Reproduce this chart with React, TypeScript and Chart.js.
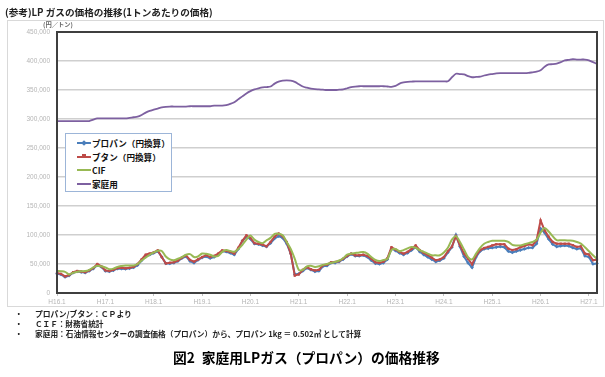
import { useEffect, useLayoutEffect, useRef, useState } from 'react';
import { Chart, registerables } from 'chart.js';

Chart.register(...registerables);

const eras = ['H16', 'H17', 'H18', 'H19', 'H20', 'H21', 'H22', 'H23', 'H24', 'H25', 'H26', 'H27'];
const monthsPerEra = [12, 12, 12, 12, 12, 12, 12, 12, 12, 12, 12, 3];
const categories: string[] = [];
eras.forEach((e, i) => {
  for (let m = 1; m <= monthsPerEra[i]; m++) categories.push(`${e}.${m}`);
});
const tickLabels = ['H16.1', 'H17.1', 'H18.1', 'H19.1', 'H20.1', 'H21.1', 'H22.1', 'H23.1', 'H24.1', 'H25.1', 'H26.1', 'H27.1'];

// プロパン（円換算） 円/トン
const propane = [
  33000, 32000, 27500, 30000, 35000, 37000, 36000, 35000, 38000, 42000, 48000, 45000,
  38000, 37000, 39000, 42000, 42000, 41500, 42500, 44000, 48000, 56000, 63000, 66000,
  69000, 72000, 62000, 51000, 51000, 52000, 55000, 60000, 63000, 55000, 52000, 57000,
  61000, 63000, 60000, 62000, 66000, 72000, 71000, 69000, 66000, 76000, 90000, 97000,
  93000, 85000, 84000, 82000, 80000, 86000, 94000, 98000, 95000, 85000, 68000, 32000,
  33000, 38000, 43000, 40000, 37000, 38000, 46000, 47000, 52000, 52000, 54000, 58000,
  63000, 67000, 64000, 64000, 65000, 62000, 56000, 51000, 50000, 52000, 58000, 77000,
  73000, 69000, 66000, 69000, 74000, 79000, 71000, 66000, 62000, 58000, 54000, 56000,
  60000, 70000, 79000, 100000, 80000, 63000, 52000, 44000, 62000, 72000, 76000, 77000,
  78000, 79000, 80000, 79000, 72000, 70000, 72000, 74000, 76000, 78000, 78000, 85000,
  111000, 104000, 93000, 84000, 80000, 81000, 82000, 81000, 78000, 76000, 77000, 64000,
  62000, 50000, 51000,
];

// ブタン（円換算）
const butane = [
  34400, 33000, 28600, 31000, 36000, 38000, 37000, 36000, 39000, 43000, 50000, 46000,
  39000, 38000, 40000, 43000, 43500, 42500, 43500, 45000, 50000, 58000, 66000, 68000,
  70000, 73500, 62000, 51000, 52000, 53000, 56000, 61000, 65000, 57000, 54000, 58000,
  62000, 65500, 62000, 64000, 68000, 73500, 72500, 71000, 68000, 78000, 90000, 99500,
  95000, 86000, 85000, 83500, 80500, 88000, 97000, 102500, 98000, 88000, 68000, 30000,
  32000, 40000, 44500, 41000, 39000, 40000, 48000, 49000, 53000, 53500, 55000, 59000,
  64000, 68000, 65000, 65000, 66000, 64000, 59000, 53000, 52000, 54000, 60000, 79000,
  75000, 71000, 68000, 71000, 76000, 82000, 74000, 69000, 65500, 61000, 56500, 58000,
  62000, 72000, 80000, 98000, 82000, 68000, 59000, 49500, 65000, 74000, 77500, 79500,
  82000, 84000, 84000, 84000, 76500, 74000, 75500, 79000, 81000, 84000, 82500, 91000,
  125000, 108000, 97000, 88000, 85000, 85000, 85000, 85000, 82500, 79500, 80500, 68000,
  66500, 56500, 57500,
];

// CIF
const cif = [
  38000, 37500, 36500, 32000, 35000, 36500, 37500, 38000, 40000, 44000, 47000, 46000,
  44000, 41000, 42000, 45000, 46500, 47500, 47500, 47500, 50000, 56000, 61000, 66000,
  70000, 73000, 72500, 63000, 58000, 56500, 59000, 62000, 66000, 67000, 62000, 63000,
  68000, 67500, 66000, 63000, 64000, 71000, 74000, 72500, 71000, 76000, 83000, 92000,
  99000, 92000, 88000, 86000, 91000, 95000, 102000, 102000, 99500, 88000, 76000, 59000,
  40000, 40000, 46000, 47000, 45000, 46000, 48500, 50000, 52000, 53500, 56000, 60000,
  66000, 68000, 69000, 70000, 70500, 68000, 62000, 57000, 55000, 57000, 59000, 74000,
  76000, 72000, 74000, 77000, 79500, 78000, 74000, 71000, 68000, 65000, 65000, 65000,
  70000, 78000, 92000, 98000, 88000, 75000, 62000, 58000, 68000, 78000, 85000, 88000,
  90000, 90000, 90000, 90000, 88000, 83000, 82000, 82000, 84000, 86000, 88000, 92000,
  104000, 112000, 106000, 98000, 91000, 91000, 91000, 90500, 90000, 88000, 85000, 79000,
  72000, 65000, 59000,
];

// 家庭用
const household = [
  296500, 296500, 296500, 296500, 296500, 296500, 296500, 296500, 296500, 299000, 301000, 301000,
  301000, 301000, 301000, 301000, 301000, 301000, 302000, 303000, 304000, 307000, 311000, 314000,
  316000, 318000, 320000, 321000, 321500, 321500, 321500, 321500, 321500, 322000, 322000, 322000,
  322000, 322000, 322000, 323000, 323000, 323000, 324000, 326000, 329000, 334000, 339000, 344000,
  348000, 351000, 353000, 354500, 355000, 356000, 361000, 364500, 366000, 366500, 366000, 364000,
  360000, 356000, 354000, 352500, 351500, 351000, 350500, 350000, 350000, 350000, 350500, 351000,
  353000, 355000, 356000, 356500, 356500, 356500, 356500, 356500, 356500, 356500, 356000, 355500,
  357000, 361000, 363000, 364000, 364500, 365000, 365000, 365000, 365000, 365000, 365000, 365000,
  365000, 365000, 372000, 378000, 377500, 377000, 374000, 372000, 372500, 373000, 375000, 376500,
  377500, 378500, 379000, 379000, 379000, 379000, 379000, 379000, 379000, 379500, 380500, 381500,
  384000, 390000, 394000, 394500, 395500, 398000, 401000, 402000, 403000, 402500, 402500, 402500,
  401000, 398000, 395000,
];

const seriesNames = ['プロパン（円換算）', 'ブタン（円換算）', 'CIF', '家庭用'];
const seriesColors = ['#4A7EBB', '#BE4B48', '#98B954', '#7D60A0'];

const titleText = '(参考)LP ガスの価格の推移(1トンあたりの価格)';
const unitText = '(円／トン)';
const noteTexts = [
  'プロパン/ブタン：ＣＰより',
  'ＣＩＦ：財務省統計',
  '家庭用：石油情報センターの調査価格（プロパン）から、プロパン 1kg ＝ 0.502㎥ として計算',
];
const captionText = '図2\u2002家庭用LPガス（プロパン）の価格推移';

const JP = '"Noto Sans CJK JP", "Noto Sans", sans-serif';

const framePlugin = {
  id: 'frame',
  afterDatasetsDraw(chart: any) {
    const { ctx, chartArea } = chart;
    ctx.save();
    ctx.strokeStyle = '#3f3f3f';
    ctx.lineWidth = 2;
    ctx.strokeRect(chartArea.left, chartArea.top, chartArea.right - chartArea.left, chartArea.bottom - chartArea.top);
    ctx.restore();
  },
};

// Text fitted to a measured width, vertically centred on cy
function FitText(props: { text: string; left: number; cy: number; width?: number; base: number; weight?: number; color?: string }) {
  const ref = useRef<HTMLSpanElement>(null);
  const [size, setSize] = useState(props.base);
  useLayoutEffect(() => {
    if (!ref.current || !props.width) return;
    const w = ref.current.getBoundingClientRect().width;
    if (w > 0) setSize(props.base * props.width / w);
  }, []);
  return (
    <span
      ref={ref}
      style={{
        position: 'absolute', left: props.left, top: props.cy, transform: 'translateY(-50%)',
        fontFamily: JP, fontWeight: props.weight ?? 700, fontSize: size, lineHeight: 1,
        color: props.color ?? '#222', whiteSpace: 'nowrap',
      }}
    >
      {props.text}
    </span>
  );
}

export default function App() {
  const ref = useRef<HTMLCanvasElement>(null);

  useEffect(() => {
    if (!ref.current) return;
    const isTick = (i: number) => tickLabels.includes(categories[i]);
    const chart = new Chart(ref.current, {
      type: 'line',
      data: {
        labels: categories,
        datasets: [
          {
            label: seriesNames[0], data: propane, borderColor: seriesColors[0], backgroundColor: seriesColors[0],
            borderWidth: 2, pointStyle: 'rectRot', pointRadius: 1.8, pointBorderWidth: 0, tension: 0, order: 4,
          },
          {
            label: seriesNames[1], data: butane, borderColor: seriesColors[1], backgroundColor: seriesColors[1],
            borderWidth: 2, pointStyle: 'rect', pointRadius: 1.6, pointBorderWidth: 0, tension: 0, order: 3,
          },
          {
            label: seriesNames[2], data: cif, borderColor: seriesColors[2], backgroundColor: seriesColors[2],
            borderWidth: 2, pointRadius: 0, tension: 0.3, order: 2,
          },
          {
            label: seriesNames[3], data: household, borderColor: seriesColors[3], backgroundColor: seriesColors[3],
            borderWidth: 1.8, pointRadius: 0, tension: 0.3, order: 1,
          },
        ],
      },
      options: {
        animation: false,
        responsive: true,
        maintainAspectRatio: false,
        layout: { padding: { top: 32, right: 8, bottom: 67, left: 0 } },
        plugins: { legend: { display: false }, tooltip: { enabled: false } },
        scales: {
          x: {
            type: 'category',
            offset: false,
            border: { display: false },
            grid: {
              drawOnChartArea: false,
              drawTicks: true,
              tickLength: 3,
              color: (c: any) => (isTick(c.index) ? '#bfbfbf' : 'rgba(0,0,0,0)'),
            },
            ticks: {
              autoSkip: false,
              maxRotation: 0,
              minRotation: 0,
              padding: 2,
              color: '#b5b5b5',
              font: { family: '"Liberation Sans", sans-serif', size: 6.5 },
              callback: (_v: any, i: number) => (isTick(i) ? categories[i] : ''),
            },
            afterFit: (s: any) => { s.height = 17; },
          },
          y: {
            min: 0,
            max: 450000,
            border: { display: false },
            grid: { color: '#cfcfcf', lineWidth: 1.5, drawTicks: false },
            ticks: {
              stepSize: 50000,
              padding: 7,
              color: '#b5b5b5',
              font: { family: '"Liberation Sans", sans-serif', size: 6.5 },
              callback: (v: any) => Number(v).toLocaleString('en-US'),
            },
            afterFit: (s: any) => { s.width = 57; },
          },
        },
      },
      plugins: [framePlugin],
    });
    return () => chart.destroy();
  }, []);

  const legendItem = (i: number, marker: 'diamond' | 'square' | null) => (
    <div key={i} style={{ position: 'relative', height: 13.5 }}>
      <div style={{ position: 'absolute', left: 0, top: 6, width: 14, height: 2, background: seriesColors[i] }}>
        {marker && (
          <div
            style={{
              position: 'absolute', left: 5, top: -1.5, width: 4, height: 4, background: seriesColors[i],
              transform: marker === 'diamond' ? 'rotate(45deg)' : 'none',
            }}
          />
        )}
      </div>
      <span
        style={{
          position: 'absolute', left: 15, top: 7, transform: 'translateY(-50%)', lineHeight: 1,
          fontFamily: JP, fontWeight: 700, fontSize: 8.6, color: '#111', whiteSpace: 'nowrap',
        }}
      >
        {seriesNames[i]}
      </span>
    </div>
  );

  return (
    <div style={{ position: 'absolute', left: 0, top: 0, width: 605, height: 377, background: '#fff', overflow: 'hidden' }}>
      <div style={{ position: 'absolute', left: 7, top: 20, width: 595, height: 285, border: '1px solid #d9d9d9' }} />
      <div style={{ position: 'absolute', left: 0, top: 0, width: 605, height: 377 }}>
        <canvas ref={ref} />
      </div>
      <FitText text={titleText} left={5} cy={12.5} width={208} base={10} />
      <FitText text={unitText} left={43} cy={25} width={30} base={6.5} color="#666" />
      <div
        style={{
          position: 'absolute', left: 65, top: 133, width: 107, height: 59, border: '1px solid #9cb5d8',
          background: '#fff', padding: '2px 0 0 11px', boxSizing: 'border-box',
        }}
      >
        {legendItem(0, 'diamond')}
        {legendItem(1, 'square')}
        {legendItem(2, null)}
        {legendItem(3, null)}
      </div>
      {[314, 324, 334.3].map((cy, i) => (
        <span key={'b' + i} style={{ position: 'absolute', left: 15, top: cy, transform: 'translateY(-50%)', lineHeight: 1, fontFamily: JP, fontWeight: 700, fontSize: 7.5, color: '#222' }}>
          ・
        </span>
      ))}
      <FitText text={noteTexts[0]} left={35} cy={314} width={97} base={7.8} />
      <FitText text={noteTexts[1]} left={35} cy={324} base={7.6} />
      <FitText text={noteTexts[2]} left={35} cy={334.3} width={327} base={7.8} />
      <FitText text={captionText} left={173} cy={358} width={267} base={14} color="#000" />
    </div>
  );
}
